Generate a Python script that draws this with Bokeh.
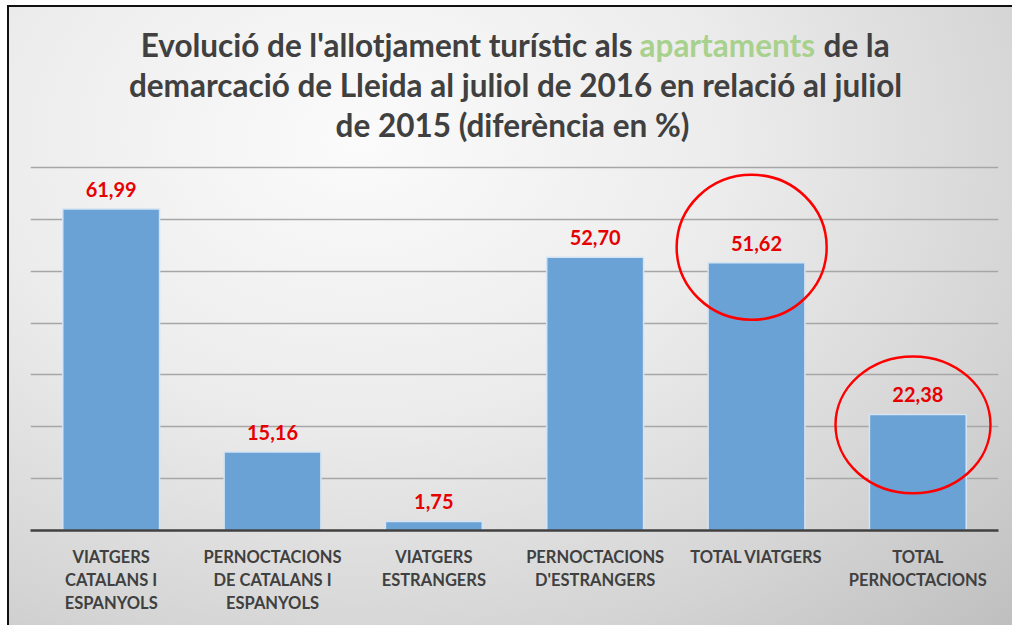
from bokeh.plotting import figure
from bokeh.models import FixedTicker, ColumnDataSource, Range1d
from bokeh.embed import file_html
from bokeh.resources import INLINE
from bokeh.core.properties import value

categories = [
    "VIATGERS\nCATALANS I\nESPANYOLS",
    "PERNOCTACIONS\nDE CATALANS I\nESPANYOLS",
    "VIATGERS\nESTRANGERS",
    "PERNOCTACIONS\nD'ESTRANGERS",
    "TOTAL VIATGERS",
    "TOTAL\nPERNOCTACIONS",
]
values = [61.99, 15.16, 1.75, 52.70, 51.62, 22.38]
value_labels = ["61,99", "15,16", "1,75", "52,70", "51,62", "22,38"]
y_ticks = [0, 10, 20, 30, 40, 50, 60, 70]
highlighted = [4, 5]  # indices circled in red

title_l1a = "Evolució de l'allotjament turístic als"
title_l1b = "apartaments"
title_l1c = "de la"
title_l2 = "demarcació de Lleida al juliol de 2016 en relació al juliol"
title_l3 = "de 2015 (diferència en %)"

FONT = "Lato"
xs = [i + 1 for i in range(len(categories))]
n = len(categories)

W, H = 1005, 620
BL, BR, BT, BB = 23, 14, 0, 95
PX_PER_UNIT = 363 / 70
YMAX = (H - BT - BB) / PX_PER_UNIT
p = figure(width=W, height=H, output_backend="svg", toolbar_location=None,
           x_range=Range1d(0.5, n + 0.5), y_range=Range1d(0, YMAX),
           min_border_left=BL, min_border_right=BR, min_border_top=BT,
           min_border_bottom=BB)
p.background_fill_color = None
p.border_fill_color = None
p.outline_line_color = None
p.styles = {
    "margin-left": "7px",
    "margin-top": "5px",
    "background": "radial-gradient(ellipse at 35% 22%, #fbfbfb 0%, #ececec 40%, #d4d4d4 75%, #bfbfbf 100%)",
    "box-shadow": "inset 2px 2px 0 #111111",
}

# helpers converting canvas pixel positions to data positions (title placement)
FW = W - BL - BR
FH = H - BT - BB
def dx(px):
    return 0.5 + (px - BL) / FW * n
def dy(py):
    return (H - BB - py) / FH * YMAX

src = ColumnDataSource(dict(x=xs, top=values, lab=value_labels))
p.vbar(x="x", top="top", width=0.6, bottom=0, source=src,
       fill_color="#6aa2d6", line_color="#d4e4f4", line_width=1.5)

p.text(x="x", y="top", text="lab", source=src, y_offset=-12,
       text_align="center", text_baseline="bottom",
       text_font=value(FONT), text_font_style="bold", text_font_size="20px",
       text_color="#e60000")

# red highlight circles around selected bars
cx = [xs[i] - 0.03 for i in highlighted]
cy = [values[highlighted[0]] + 3.0, values[highlighted[1]] - 2.0]
p.ellipse(x=cx, y=cy, width=[150, 155], height=[145, 137],
          width_units="screen", height_units="screen",
          fill_color=None, line_color="#ff0000", line_width=2.5)

p.yaxis.visible = False
p.yaxis.ticker = FixedTicker(ticks=y_ticks)
p.ygrid.ticker = FixedTicker(ticks=y_ticks)
p.ygrid.grid_line_color = "#a6a6a6"
p.ygrid.grid_line_width = 1.5
p.xgrid.grid_line_color = None

ax = p.xaxis[0]
ax.ticker = FixedTicker(ticks=xs)
ax.major_label_overrides = {x: c for x, c in zip(xs, categories)}
ax.axis_line_color = "#404040"
ax.axis_line_width = 2.5
ax.major_tick_line_color = None
ax.minor_tick_line_color = None
ax.major_label_text_font = FONT
ax.major_label_text_font_style = "bold"
ax.major_label_text_font_size = "16.5px"
ax.major_label_text_color = "#404040"
ax.major_label_text_line_height = 1.15
ax.major_label_standoff = 10

TITLE_COLOR = "#404040"
TS = "31.5px"
def lab(text, px, py, align, color=TITLE_COLOR):
    p.text(x=[dx(px)], y=[dy(py)], text=[text],
           text_align=align, text_baseline="alphabetic",
           text_font=value(FONT), text_font_style="bold", text_font_size=TS,
           text_color=color)

lab(title_l1a, 625, 39, "right")
lab(title_l1b, 632, 39, "left", "#a9d18e")
lab(title_l1c, 816, 39, "left")
lab(title_l2, 508, 79, "center")
lab(title_l3, 505, 119, "center")

open("out.html", "w").write(file_html(p, INLINE))
